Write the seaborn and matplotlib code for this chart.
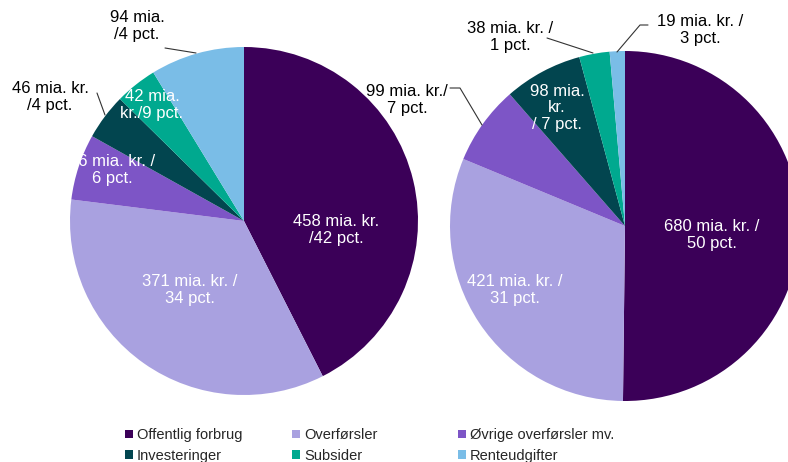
import matplotlib
matplotlib.use("Agg")
import matplotlib.pyplot as plt
import seaborn as sns
from matplotlib.patches import Patch
from matplotlib.lines import Line2D

##### Data

categories = ["Offentlig forbrug", "Overførsler", "Øvrige overførsler mv.",
              "Investeringer", "Subsider", "Renteudgifter"]
left_values = [458, 371, 66, 46, 42, 94]
right_values = [680, 421, 99, 98, 38, 19]
left_labels = ["458 mia. kr.\n/42 pct.", "371 mia. kr. /\n34 pct.", "66 mia. kr. /\n6 pct.",
               "46 mia. kr.\n/4 pct.", "42 mia.\nkr./9 pct.", "94 mia.\n/4 pct."]
right_labels = ["680 mia. kr. /\n50 pct.", "421 mia. kr. /\n31 pct.", "99 mia. kr./\n7 pct.",
                "98 mia.\nkr.\n/ 7 pct.", "38 mia. kr. /\n1 pct.", "19 mia. kr. /\n3 pct."]
colors = ["#3b0058", "#a9a1e0", "#7d55c6", "#02454f", "#00a98f", "#7abde7"]

##### Style

sns.set_theme(style="white")
plt.rcParams["font.family"] = ["Liberation Sans", "DejaVu Sans"]

W, H = 788, 462
fig = plt.figure(figsize=(W / 100, H / 100), dpi=100)


def fx(x, y):
    return x / W, 1 - y / H


def pie_axes(cx, cy, r, values):
    ax = fig.add_axes([(cx - r) / W, (H - cy - r) / H, 2 * r / W, 2 * r / H])
    ax.pie(values, colors=colors, startangle=90, counterclock=False, radius=1,
           wedgeprops=dict(linewidth=0))
    ax.set_xlim(-1, 1)
    ax.set_ylim(-1, 1)
    ax.axis("off")
    for w in ax.patches:
        w.set_clip_on(False)
    return ax


ax1 = pie_axes(244, 221, 174, left_values)
ax2 = pie_axes(625, 226, 175, right_values)

##### Labels (pixel positions of label centres)

fs = 12
left_pos = [(336, 230, "white"), (190, 290, "white"), (112, 170, "white"),
            (50, 97, "black"), (152, 105, "white"), (137, 26, "black")]
right_pos = [(712, 235, "white"), (515, 290, "white"), (407, 100, "black"),
             (557, 108, "white"), (510, 37, "black"), (700, 30, "black")]

for lab, (x, y, c) in zip(left_labels, left_pos):
    fig.text(*fx(x, y), lab, ha="center", va="center", color=c, fontsize=fs, linespacing=1.1)
for lab, (x, y, c) in zip(right_labels, right_pos):
    fig.text(*fx(x, y), lab, ha="center", va="center", color=c, fontsize=fs, linespacing=1.1)

leaders = [
    [(165, 48), (196, 53)],
    [(97, 93), (105, 115)],
    [(450, 88), (460, 88), (482, 125)],
    [(547, 38), (593, 53)],
    [(648, 25), (640, 25), (617, 52)],
]
for pts in leaders:
    xs = [p[0] / W for p in pts]
    ys = [1 - p[1] / H for p in pts]
    fig.add_artist(Line2D(xs, ys, color="#333333", linewidth=0.8, transform=fig.transFigure))

##### Legend (three columns, two rows)

handles = [Patch(facecolor=c, edgecolor="none") for c in colors]
col_x = [115, 282, 448]
for j, x in enumerate(col_x):
    idx = [j, j + 3]
    fig.legend([handles[i] for i in idx], [categories[i] for i in idx],
               loc="upper left", bbox_to_anchor=(x / W, 1 - 418 / H),
               frameon=False, fontsize=10.5, handlelength=0.55, handleheight=0.55,
               handletextpad=0.25, labelspacing=0.45, borderpad=0.2)

fig.savefig("out.png", dpi=100)
